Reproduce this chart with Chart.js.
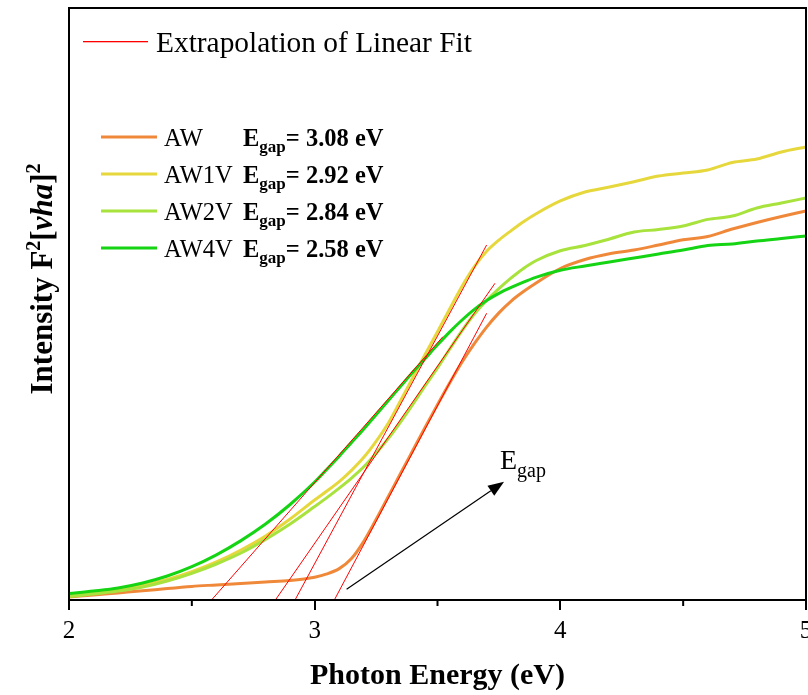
<!DOCTYPE html>
<html>
<head>
<meta charset="utf-8">
<script src="https://cdn.jsdelivr.net/npm/chart.js@4"></script>
<style>
  body { margin: 0; background: #fff; }
  canvas { display: block; }
</style>
</head>
<body>
<canvas id="chart" width="808" height="695"></canvas>
<script>
const SERIF = "'Liberation Serif', 'Times New Roman', serif";

// photon energy (eV); finer steps through the absorption edge
const energy = [2.0, 2.1, 2.2, 2.3, 2.4, 2.5, 2.6, 2.7, 2.8, 2.9,
  3.0, 3.05, 3.1, 3.15, 3.2, 3.25, 3.3, 3.35, 3.4, 3.45, 3.5, 3.55, 3.6, 3.65, 3.7, 3.75, 3.8, 3.85, 3.9,
  4.0, 4.1, 4.2, 4.3, 4.4, 4.5, 4.6, 4.7, 4.8, 4.9, 5.0];
// F(R)^2 in arbitrary units
const awValues = [0.51, 0.84, 1.2, 1.55, 1.95, 2.3, 2.55, 2.8, 3.05, 3.3,
  3.85, 4.4, 5.3, 7.0, 9.9, 13.6, 17.5, 21.4, 25.3, 29.2, 33.0, 36.7, 40.2, 43.3, 46.1, 48.5, 50.5, 52.1, 53.5,
  56.0, 57.52, 58.5, 59.12, 59.97, 60.86, 61.4, 62.67, 63.77, 64.78, 65.71];
const aw1vValues = [0.76, 1.18, 1.69, 2.45, 3.46, 4.78, 6.42, 8.45, 10.81, 13.68,
  16.89, 18.4, 20.0, 21.9, 24.1, 26.8, 29.9, 33.7, 37.6, 41.5, 45.3, 49.2, 53.0, 56.3, 58.9, 60.8, 62.4, 63.9, 65.2,
  67.4, 68.92, 69.76, 70.66, 71.62, 72.13, 72.64, 73.9, 74.49, 75.68, 76.52];
const aw2vValues = [0.59, 1.01, 1.52, 2.2, 3.21, 4.51, 6.08, 7.94, 10.24, 12.84,
  15.79, 17.3, 18.9, 20.6, 22.5, 24.8, 27.3, 30.1, 33.1, 36.2, 39.2, 42.4, 45.5, 48.3, 50.6, 52.6, 54.4, 56.0, 57.3,
  59.0, 59.88, 60.98, 62.16, 62.58, 63.18, 64.29, 64.86, 66.22, 67.06, 67.91];
const aw4vValues = [1.1, 1.52, 2.03, 2.87, 4.05, 5.63, 7.63, 10.03, 12.83, 16.13,
  19.93, 22.1, 24.3, 26.6, 28.9, 31.3, 33.7, 36.1, 38.5, 40.8, 43.1, 45.3, 47.3, 49.1, 50.6, 51.8, 52.8, 53.7, 54.5,
  55.7, 56.42, 57.09, 57.77, 58.45, 59.12, 59.88, 60.14, 60.64, 61.06, 61.49];

const sampleNames = ["AW", "AW1V", "AW2V", "AW4V"];
const sampleColors = ["#F0883A", "#E6D83C", "#A8E23C", "#14D414"];
// band gaps = x-intercepts of the linear fits, and where each fit line stops
const bandGaps = [3.08, 2.92, 2.84, 2.58];
const fitEndX = [3.70, 3.70, 3.734, 3.522];
const fitEndY = [48.43, 59.97, 53.5, 44.48];

const majorTicks = [2, 3, 4, 5];
const minorTicks = [2.5, 3.5, 4.5];

// arrow pointing toward higher gap, in data units
const arrowFrom = { x: 3.13, y: 1.81 };
const arrowTo = { x: 3.771, y: 19.98 };
const gapLabelAt = { x: 3.754, y: 22.1 };

const allValues = [awValues, aw1vValues, aw2vValues, aw4vValues];

const curveSets = allValues.map((vals, i) => ({
  label: sampleNames[i],
  data: energy.map((e, k) => ({ x: e, y: vals[k] })),
  borderColor: sampleColors[i],
  borderWidth: 3,
  pointRadius: 0,
  cubicInterpolationMode: "monotone",
  order: 4 - i
}));

const fitSets = bandGaps.map((g, i) => ({
  label: "fit " + sampleNames[i],
  data: [{ x: g, y: 0 }, { x: fitEndX[i], y: fitEndY[i] }],
  borderColor: "#ff0000",
  borderWidth: 1,
  pointRadius: 0,
  order: 0
}));

function drawParts(ctx, x, y, parts) {
  parts.forEach(p => {
    ctx.font = p.font;
    ctx.fillText(p.text, x, y + (p.dy || 0));
    x += ctx.measureText(p.text).width;
  });
  return x;
}

function partsWidth(ctx, parts) {
  return parts.reduce((w, p) => { ctx.font = p.font; return w + ctx.measureText(p.text).width; }, 0);
}

const decorations = {
  id: "decorations",
  afterDatasetsDraw(chart) {
    const { ctx, chartArea: a, scales: { x, y } } = chart;
    ctx.save();
    ctx.strokeStyle = "#000";
    ctx.fillStyle = "#000";

    // minor ticks
    ctx.lineWidth = 2;
    minorTicks.forEach(v => {
      const px = x.getPixelForValue(v);
      ctx.beginPath();
      ctx.moveTo(px, a.bottom);
      ctx.lineTo(px, a.bottom + 6);
      ctx.stroke();
    });

    // frame
    ctx.strokeRect(a.left, a.top, a.right - a.left, a.bottom - a.top);

    // arrow
    const x1 = x.getPixelForValue(arrowFrom.x), y1 = y.getPixelForValue(arrowFrom.y);
    const x2 = x.getPixelForValue(arrowTo.x), y2 = y.getPixelForValue(arrowTo.y);
    const ang = Math.atan2(y2 - y1, x2 - x1);
    const head = 16, half = 6;
    const bx = x2 - head * Math.cos(ang), by = y2 - head * Math.sin(ang);
    ctx.lineWidth = 1.2;
    ctx.beginPath();
    ctx.moveTo(x1, y1);
    ctx.lineTo(bx, by);
    ctx.stroke();
    ctx.beginPath();
    ctx.moveTo(x2, y2);
    ctx.lineTo(bx + half * Math.sin(ang), by - half * Math.cos(ang));
    ctx.lineTo(bx - half * Math.sin(ang), by + half * Math.cos(ang));
    ctx.closePath();
    ctx.fill();

    ctx.textBaseline = "alphabetic";
    drawParts(ctx, x.getPixelForValue(gapLabelAt.x), y.getPixelForValue(gapLabelAt.y), [
      { text: "E", font: "28px " + SERIF },
      { text: "gap", font: "20px " + SERIF, dy: 8 }
    ]);

    // fit legend
    ctx.fillStyle = "#ff0000";
    ctx.fillRect(83, 41, 65, 1.3);
    ctx.fillStyle = "#000";
    ctx.font = "29.4px " + SERIF;
    ctx.fillText("Extrapolation of Linear Fit", 156, 52);

    // sample legend
    sampleNames.forEach((name, i) => {
      const ly = 137 + i * 37;
      ctx.strokeStyle = sampleColors[i];
      ctx.lineWidth = 3;
      ctx.beginPath();
      ctx.moveTo(101, ly);
      ctx.lineTo(157, ly);
      ctx.stroke();
      ctx.font = "24.5px " + SERIF;
      ctx.fillText(name, 164, ly + 8.5);
      drawParts(ctx, 243, ly + 8.5, [
        { text: "E", font: "bold 24.5px " + SERIF },
        { text: "gap", font: "bold 17px " + SERIF, dy: 6 },
        { text: "= " + bandGaps[i].toFixed(2) + " eV", font: "bold 24.5px " + SERIF }
      ]);
    });

    // y axis title
    const yTitle = [
      { text: "Intensity F", font: "bold 31px " + SERIF },
      { text: "2", font: "bold 20px " + SERIF, dy: -12 },
      { text: "[", font: "bold 31px " + SERIF },
      { text: "vha", font: "italic bold 31px " + SERIF },
      { text: "]", font: "bold 31px " + SERIF },
      { text: "2", font: "bold 20px " + SERIF, dy: -12 }
    ];
    ctx.translate(52, (a.top + a.bottom) / 2 - 25);
    ctx.rotate(-Math.PI / 2);
    drawParts(ctx, -partsWidth(ctx, yTitle) / 2, 0, yTitle);
    ctx.restore();
  }
};

new Chart(document.getElementById("chart"), {
  type: "line",
  data: { datasets: [...fitSets, ...curveSets] },
  options: {
    responsive: false,
    animation: false,
    layout: { padding: { top: 8, right: 2, left: 0, bottom: 0 } },
    plugins: { legend: { display: false }, tooltip: { enabled: false } },
    scales: {
      x: {
        type: "linear",
        min: 2,
        max: 5,
        afterBuildTicks: s => { s.ticks = majorTicks.map(v => ({ value: v })); },
        ticks: { color: "#000", font: { family: SERIF, size: 25 }, padding: 6 },
        grid: { drawOnChartArea: false, tickLength: 10, lineWidth: 2, color: "#000" },
        border: { display: false },
        title: {
          display: true,
          text: "Photon Energy (eV)",
          color: "#000",
          font: { family: SERIF, size: 30, weight: "bold" },
          padding: { top: 0, bottom: 1 }
        },
        afterFit: s => { s.height = 95; s.paddingLeft = 0; s.paddingRight = 0; }
      },
      y: {
        min: 0,
        max: 100,
        ticks: { display: false },
        grid: { display: false },
        border: { display: false },
        afterFit: s => { s.width = 69; }
      }
    }
  },
  plugins: [decorations]
});
</script>
</body>
</html>
